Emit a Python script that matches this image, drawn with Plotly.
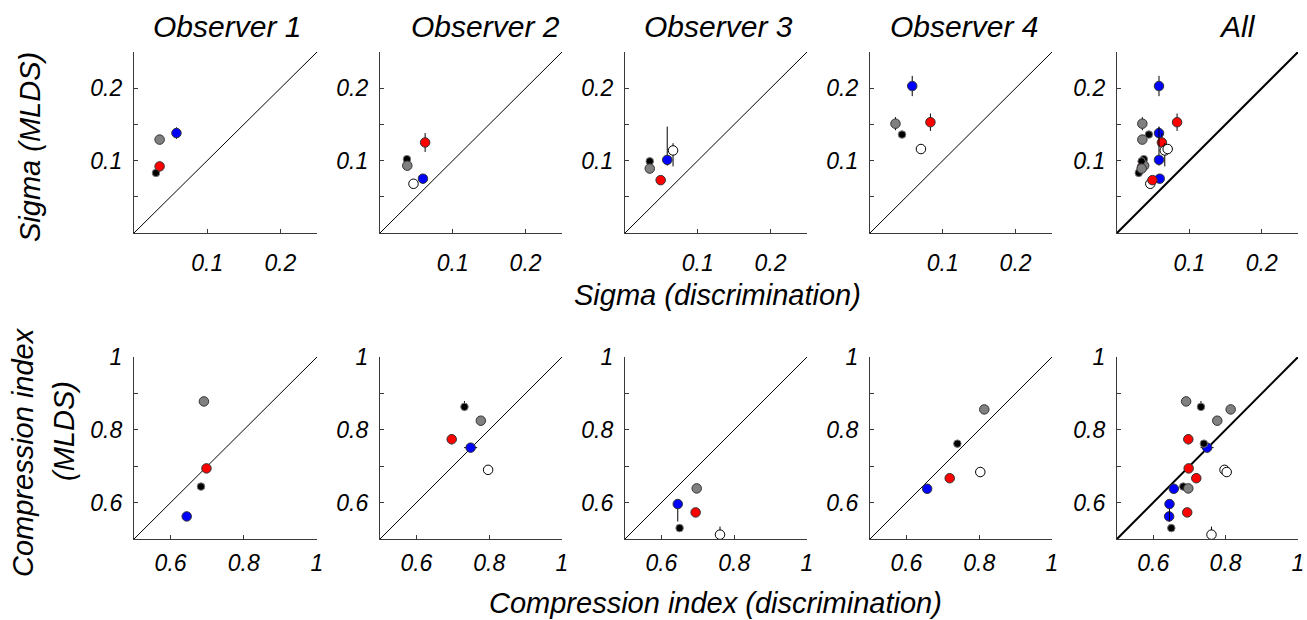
import plotly.graph_objects as go

# ---------------- data ----------------
panel_titles = ["Observer 1", "Observer 2", "Observer 3", "Observer 4", "All"]
conditions = ["black", "gray", "red", "blue", "white"]

sigma_disc = [
    [0.030, 0.035, 0.035, 0.058, None],
    [0.037, 0.0375, 0.062, 0.059, 0.046],
    [0.034, 0.034, 0.049, 0.058, 0.066],
    [0.044, 0.035, 0.083, 0.058, 0.070],
]
sigma_mlds = [
    [0.083, 0.129, 0.092, 0.138, None],
    [0.102, 0.093, 0.125, 0.075, 0.068],
    [0.099, 0.089, 0.073, 0.101, 0.114],
    [0.136, 0.151, 0.153, 0.203, 0.116],
]
sigma_mlds_err_hi = [
    [0.002, 0.002, 0.003, 0.008, None],
    [0.004, 0.003, 0.013, 0.003, 0.002],
    [0.003, 0.002, 0.002, 0.046, 0.010],
    [0.003, 0.009, 0.012, 0.014, 0.005],
]
sigma_mlds_err_lo = [
    [0.002, 0.002, 0.003, 0.008, None],
    [0.004, 0.004, 0.013, 0.004, 0.002],
    [0.003, 0.002, 0.002, 0.008, 0.022],
    [0.003, 0.009, 0.012, 0.014, 0.005],
]
sigma_disc_err = [
    [0.001, 0.001, 0.001, 0.001, None],
    [0.001, 0.001, 0.001, 0.001, 0.001],
    [0.001, 0.001, 0.001, 0.001, 0.001],
    [0.001, 0.001, 0.001, 0.001, 0.001],
]

ci_disc = [
    [0.683, 0.691, 0.698, 0.644, None],
    [0.732, 0.777, 0.697, 0.749, 0.797],
    [0.650, 0.697, 0.694, 0.645, 0.761],
    [0.740, 0.814, 0.719, 0.657, 0.803],
]
ci_mlds = [
    [0.644, 0.878, 0.694, 0.562, None],
    [0.863, 0.825, 0.774, 0.751, 0.690],
    [0.530, 0.639, 0.573, 0.596, 0.512],
    [0.762, 0.856, 0.667, 0.638, 0.684],
]
ci_mlds_err_hi = [
    [0.004, 0.004, 0.005, 0.004, None],
    [0.016, 0.004, 0.014, 0.006, 0.003],
    [0.004, 0.004, 0.004, 0.004, 0.022],
    [0.006, 0.004, 0.008, 0.004, 0.003],
]
ci_mlds_err_lo = [
    [0.004, 0.004, 0.005, 0.004, None],
    [0.010, 0.004, 0.014, 0.006, 0.003],
    [0.004, 0.004, 0.004, 0.048, 0.004],
    [0.006, 0.004, 0.008, 0.004, 0.003],
]
ci_disc_err = [
    [0.003, 0.003, 0.010, 0.003, None],
    [0.003, 0.003, 0.003, 0.018, 0.003],
    [0.003, 0.003, 0.003, 0.003, 0.003],
    [0.003, 0.003, 0.003, 0.003, 0.003],
]

sigma_range = [0, 0.25]
sigma_xticks = [0.1, 0.2]
sigma_yticks = [0.05, 0.1, 0.15, 0.2, 0.25]
sigma_yticktext = ["", "0.1", "", "0.2", ""]
ci_range = [0.5, 1.0]
ci_xticks = [0.6, 0.8, 1.0]
ci_xticktext = ["0.6", "0.8", "1"]
ci_yticks = [0.6, 0.7, 0.8, 0.9, 1.0]
ci_yticktext = ["0.6", "", "0.8", "", "1"]

# ---------------- styling ----------------
W, H = 1307, 620
FONT = "Liberation Sans, Arial, Helvetica, sans-serif"
marker_style = {
    "black": dict(color="#000000", size=7.5, line=dict(color="#777777", width=1)),
    "gray": dict(color="#808080", size=9.5, line=dict(color="#333333", width=1)),
    "red": dict(color="#ff0000", size=9.5, line=dict(color="#333333", width=1)),
    "blue": dict(color="#0000ff", size=9.5, line=dict(color="#333333", width=1)),
    "white": dict(color="#ffffff", size=9.5, line=dict(color="#000000", width=1)),
}
col_px = [(134, 317), (380, 562), (625, 807), (870, 1052), (1117, 1298)]
row_px = [(52, 233), (357, 539)]
row_xlabel_standoff = [9, 3]

fig = go.Figure()


def ax_name(i):
    return "" if i == 0 else str(i + 1)


rows = [
    dict(x=sigma_disc, y=sigma_mlds, ehi=sigma_mlds_err_hi, elo=sigma_mlds_err_lo,
         ex=sigma_disc_err, rng=sigma_range, xt=sigma_xticks,
         xtt=[str(v) for v in sigma_xticks], yt=sigma_yticks, ytt=sigma_yticktext),
    dict(x=ci_disc, y=ci_mlds, ehi=ci_mlds_err_hi, elo=ci_mlds_err_lo,
         ex=ci_disc_err, rng=ci_range, xt=ci_xticks, xtt=ci_xticktext,
         yt=ci_yticks, ytt=ci_yticktext),
]

axis_color = "#3a3a3a"
tickfont = dict(family=FONT, size=23, color="black", style="italic")

for r, rd in enumerate(rows):
    for c in range(5):
        idx = r * 5 + c
        nm = ax_name(idx)
        xa, ya = "x" + nm, "y" + nm
        x0, x1 = col_px[c]
        y0, y1 = row_px[r]
        fig.layout["xaxis" + nm] = dict(
            domain=[x0 / W, x1 / W], anchor=ya, range=rd["rng"], automargin=False,
            showgrid=False, zeroline=False, showline=True, linecolor=axis_color,
            linewidth=1.3, ticks="inside", ticklen=4, tickcolor=axis_color,
            tickvals=rd["xt"], ticktext=rd["xtt"], tickfont=tickfont,
            ticklabelstandoff=row_xlabel_standoff[r],
        )
        fig.layout["yaxis" + nm] = dict(
            domain=[1 - y1 / H, 1 - y0 / H], anchor=xa, range=rd["rng"], automargin=False,
            showgrid=False, zeroline=False, showline=True, linecolor=axis_color,
            linewidth=1.3, ticks="inside", ticklen=4, tickcolor=axis_color,
            tickvals=rd["yt"], ticktext=rd["ytt"], tickfont=tickfont,
            ticklabelstandoff=6,
        )
        fig.add_trace(go.Scatter(
            x=rd["rng"], y=rd["rng"], mode="lines", xaxis=xa, yaxis=ya,
            line=dict(color="black", width=2 if c == 4 else 1),
            showlegend=False, hoverinfo="skip", cliponaxis=True,
        ))
        obs_list = [c] if c < 4 else [0, 1, 2, 3]
        for o in obs_list:
            for k, cond in enumerate(conditions):
                xv = rd["x"][o][k]
                if xv is None:
                    continue
                fig.add_trace(go.Scatter(
                    x=[xv], y=[rd["y"][o][k]], mode="markers",
                    xaxis=xa, yaxis=ya, marker=marker_style[cond],
                    error_y=dict(type="data", symmetric=False,
                                 array=[rd["ehi"][o][k]], arrayminus=[rd["elo"][o][k]],
                                 color="black", thickness=1, width=0),
                    error_x=dict(type="data", array=[rd["ex"][o][k]],
                                 color="black", thickness=1, width=0),
                    showlegend=False, cliponaxis=False,
                ))

annotations = []
title_x = [227, 485, 718, 964, 1237]
for t, tx in zip(panel_titles, title_x):
    annotations.append(dict(text=t, x=tx / W, y=1 - 26 / H, xref="paper", yref="paper",
                            showarrow=False, xanchor="center", yanchor="middle",
                            font=dict(family=FONT, size=30, color="black", style="italic")))
lab_font = dict(family=FONT, size=29, color="black", style="italic")
annotations += [
    dict(text="Sigma (MLDS)", x=30 / W, y=1 - 147 / H, textangle=-90),
    dict(text="Compression index", x=23 / W, y=1 - 452 / H, textangle=-90),
    dict(text="(MLDS)", x=64 / W, y=1 - 431 / H, textangle=-90),
    dict(text="Sigma (discrimination)", x=717 / W, y=1 - 295 / H),
    dict(text="Compression index (discrimination)", x=716 / W, y=1 - 603 / H),
]
for a in annotations[5:]:
    a.update(xref="paper", yref="paper", showarrow=False, xanchor="center",
             yanchor="middle", font=lab_font)

fig.update_layout(
    width=W, height=H, margin=dict(l=0, r=0, t=0, b=0, pad=0, autoexpand=False),
    paper_bgcolor="white", plot_bgcolor="white",
    annotations=annotations, showlegend=False,
)

fig.write_html("out.html")
